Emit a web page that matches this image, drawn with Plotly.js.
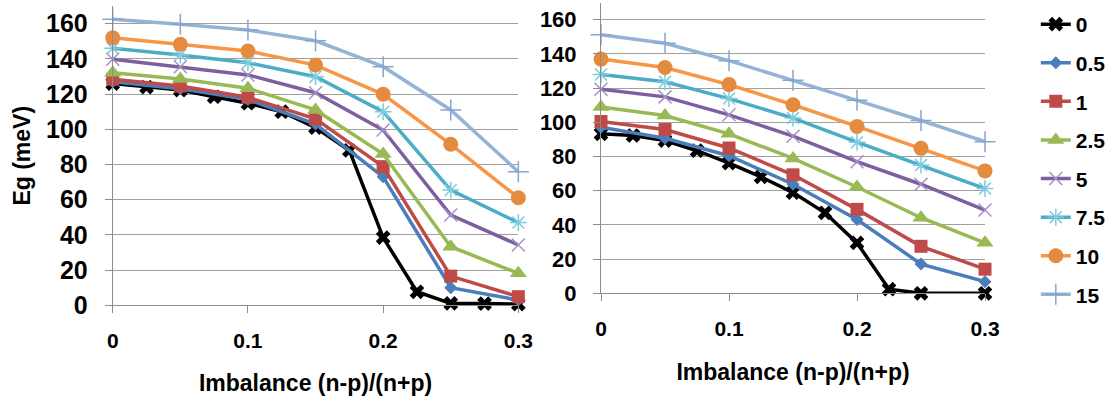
<!DOCTYPE html>
<html>
<head>
<meta charset="utf-8">
<script src="https://cdn.plot.ly/plotly-3.0.1.min.js"></script>
<style>
  html, body { margin: 0; padding: 0; background: #fff; }
  #chart { width: 1114px; height: 402px; }
</style>
</head>
<body>
<div id="chart"></div>
<script>
// Imbalance values (x)
const xFine = [0, 0.025, 0.05, 0.075, 0.1, 0.125, 0.15, 0.175, 0.2, 0.225, 0.25, 0.275, 0.3];
const xFineRight = [0, 0.025, 0.05, 0.075, 0.1, 0.125, 0.15, 0.175, 0.2, 0.225, 0.25, 0.3];
const xCoarse = [0, 0.05, 0.1, 0.15, 0.2, 0.25, 0.3];

// Series names (legend)
const seriesNames = ['0', '0.5', '1', '2.5', '5', '7.5', '10', '15'];

// Left panel: Eg (meV)
const left0 = [126, 124, 122.3, 118.5, 114.8, 110, 101, 88, 38.5, 7.7, 1.1, 1, 0.7];
const left05 = [127, 123, 117, 103, 73, 10, 3];
const left1 = [128.5, 124.6, 118.2, 105.9, 78.8, 16.6, 4.9];
const left25 = [132.2, 128.6, 123.3, 111, 86, 33.3, 18.2];
const left5 = [139.8, 135.6, 130.9, 120.8, 99.6, 51.3, 34.3];
const left75 = [146, 142.2, 137.8, 129.9, 110, 65.5, 47];
const left10 = [152, 148.3, 144.5, 136.5, 119.9, 91.5, 61.1];
const left15 = [162.5, 159.7, 156.4, 150.3, 135.6, 111, 75.9];

// Right panel: Eg (meV)
const right0 = [93.3, 92.3, 89.3, 83.4, 76.2, 68.1, 58.9, 47.1, 29.5, 2.4, 0, 0];
const right05 = [97.2, 90.7, 80.5, 63.8, 43.2, 17.1, 6.8];
const right1 = [100.5, 95.8, 85, 69.3, 49.1, 27.5, 14.1];
const right25 = [109, 104, 93.3, 78.9, 62.2, 44.2, 29.5];
const right5 = [119.4, 114.9, 104.4, 91.9, 77, 63.8, 48.7];
const right75 = [128, 123.7, 113.9, 102.5, 88.4, 75, 61.3];
const right10 = [137, 132.1, 122.1, 110.3, 97.6, 84.8, 71.6];
const right15 = [151.2, 146.3, 136.1, 124.7, 112.9, 101.1, 88.7];

const yTickVals = [0, 20, 40, 60, 80, 100, 120, 140, 160];
const xTickVals = [0, 0.1, 0.2, 0.3];
const xTickText = ['0', '0.1', '0.2', '0.3'];

// Visual style for each series
const styles = [
  { line: '#000000', marker: { symbol: 'x', size: 13, color: '#000000' } },
  { line: '#4A7EBB', marker: { symbol: 'diamond', size: 10, color: '#4A7EBB' } },
  { line: '#BE4B48', marker: { symbol: 'square', size: 13, color: '#BE4B48' } },
  { line: '#98B954', marker: { symbol: 'triangle-up', size: 15, color: '#98B954' } },
  { line: '#7D5FA0', marker: { symbol: 'x-thin-open', size: 13, color: '#A592C6', line: { width: 1.5, color: '#A592C6' } } },
  { line: '#4BACC6', marker: { symbol: 'asterisk-open', size: 14, color: '#7ECBDD', line: { width: 1.5, color: '#7ECBDD' } } },
  { line: '#F79646', marker: { symbol: 'circle', size: 15, color: '#E48B3F' } },
  { line: '#95B3D7', marker: { symbol: 'cross-thin-open', size: 15, color: '#86A5CF', line: { width: 1.5, color: '#86A5CF' } } }
];

const leftData = [left0, left05, left1, left25, left5, left75, left10, left15];
const rightData = [right0, right05, right1, right25, right5, right75, right10, right15];

const traces = [];
leftData.forEach((ys, i) => {
  traces.push({
    type: 'scatter', mode: 'lines+markers',
    x: i === 0 ? xFine : xCoarse, y: ys,
    name: seriesNames[i], legendgroup: 'g' + i, showlegend: true,
    line: { color: styles[i].line, width: 3.5 },
    marker: styles[i].marker,
    cliponaxis: false, xaxis: 'x', yaxis: 'y'
  });
});
rightData.forEach((ys, i) => {
  traces.push({
    type: 'scatter', mode: 'lines+markers',
    x: i === 0 ? xFineRight : xCoarse, y: ys,
    name: seriesNames[i], legendgroup: 'g' + i, showlegend: false,
    line: { color: styles[i].line, width: 3.5 },
    marker: styles[i].marker,
    cliponaxis: false, xaxis: 'x2', yaxis: 'y2'
  });
});

const fontFam = 'Liberation Sans, Arial, sans-serif';
const xTickFont = { family: fontFam, size: 21, color: '#000', weight: 'bold' };
const titleFont = { family: fontFam, size: 23, color: '#000', weight: 'bold' };

function xAxis(domain, anchor, labelGap) {
  return {
    domain: domain, anchor: anchor, range: [0, 0.3],
    tickvals: xTickVals, ticktext: xTickText,
    showgrid: false, zeroline: false,
    showline: true, linecolor: '#8C8C8C', linewidth: 1,
    ticks: 'outside', ticklen: 7, tickcolor: '#8C8C8C',
    tickfont: xTickFont, ticklabelstandoff: labelGap,
    title: { text: 'Imbalance (n-p)/(n+p)', font: titleFont, standoff: 24 },
    automargin: false, fixedrange: true
  };
}
function yAxis(domain, anchor, fontSize) {
  return {
    domain: domain, anchor: anchor, range: [0, 170],
    tickvals: yTickVals,
    showgrid: true, gridcolor: '#A0A0A0', gridwidth: 1,
    zeroline: false,
    showline: true, linecolor: '#8C8C8C', linewidth: 1,
    ticks: 'outside', ticklen: 7, tickcolor: '#8C8C8C',
    tickfont: { family: fontFam, size: fontSize, color: '#000', weight: 'bold' },
    ticklabelstandoff: 12,
    automargin: false, fixedrange: true
  };
}

const layout = {
  width: 1114, height: 402,
  margin: { l: 0, r: 0, t: 0, b: 0 },
  paper_bgcolor: '#fff', plot_bgcolor: 'rgba(0,0,0,0)',
  showlegend: true,
  xaxis: xAxis([0.1012, 0.4653], 'y', 9),
  yaxis: yAxis([0.2405, 0.9848], 'x', 25),
  xaxis2: xAxis([0.5395, 0.8842], 'y2', 10),
  yaxis2: yAxis([0.2704, 0.9933], 'x2', 22),
  annotations: [{
    text: 'Eg (meV)', textangle: -90, showarrow: false,
    xref: 'paper', yref: 'paper', x: 22 / 1114, y: 0.613,
    xanchor: 'center', yanchor: 'middle', font: titleFont
  }],
  legend: {
    x: 0.9298, y: 0.99, xanchor: 'left', yanchor: 'top',
    font: { family: fontFam, size: 21, color: '#000', weight: 'bold' },
    tracegroupgap: 8.3,
    bgcolor: 'rgba(0,0,0,0)', borderwidth: 0
  }
};

Plotly.newPlot('chart', traces, layout, { staticPlot: true, displayModeBar: false });
</script>
</body>
</html>
